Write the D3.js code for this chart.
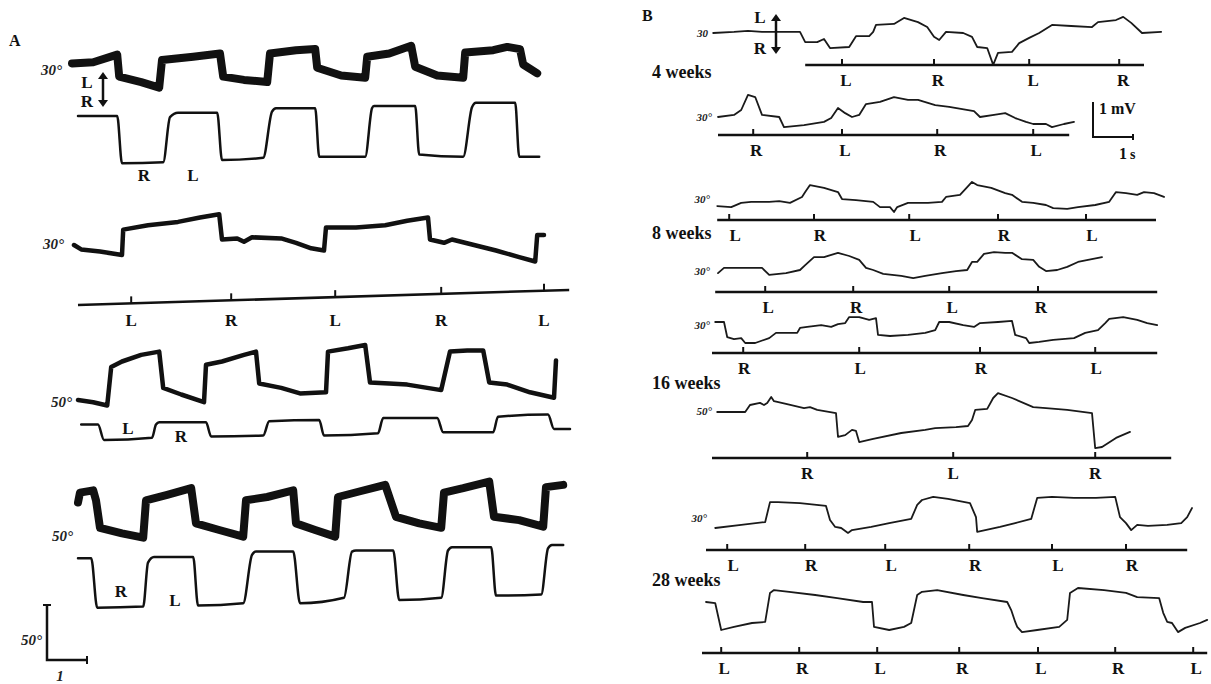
<!DOCTYPE html>
<html>
<head>
<meta charset="utf-8">
<script src="https://cdn.jsdelivr.net/npm/d3@7"></script>
<style>
body { margin: 0; background: #fff; }
svg { display: block; }
.lab { font-family: "Liberation Serif", "DejaVu Serif", serif; font-weight: bold; fill: #111; }
.deg { font-family: "Liberation Serif", "DejaVu Serif", serif; font-style: italic; font-weight: bold; fill: #222; }
</style>
</head>
<body>
<div id="chart"></div>
<script>
'use strict';

// ---------------- data : time in s, panel A in degrees, panel B in mV ----------------

// panel A, row 1 (30 deg) : EOG and stimulus position
var a1Eog = [[0.05,6],[0.58,7],[1.18,14],[1.23,-6],[1.78,-11],[2.23,-16],[2.30,9],[3.08,12],[3.75,15],
    [3.83,-6],[4.35,-9],[4.93,-11],[5.00,15],[5.65,18],[6.13,19],[6.18,2],[6.78,-5],[7.38,-7],[7.43,12],
    [7.98,15],[8.53,22],[8.63,3],[9.18,-5],[9.83,-7],[9.88,16],[10.58,18],[10.93,21],[11.25,19],[11.33,5],[11.68,-3]];
var a1Stim = [[0.20,40],[1.18,40],[1.30,-3],[2.33,-2],[2.50,39],[2.70,43],[3.68,43],[3.80,0],[4.83,2],
    [5.05,44],[5.15,47],[6.13,47],[6.23,3],[7.38,3],[7.55,47],[7.60,49],[8.63,49],[8.73,5],[9.83,3],
    [10.05,48],[10.15,52],[11.13,52],[11.23,3],[11.73,3]];

// panel A, row 2 (30 deg) : EOG and the L/R marker line
var a2Eog = [[0.10,0],[0.28,-4],[0.75,-6],[1.30,-9],[1.33,14],[1.95,18],[2.70,21],[3.25,25],[3.73,28],
    [3.80,5],[4.18,6],[4.35,3],[4.55,7],[5.28,6],[5.65,2],[6.03,-3],[6.35,-5],[6.40,16],[7.15,16],
    [7.88,18],[8.43,22],[8.95,25],[9.00,5],[9.35,2],[9.55,5],[10.10,0],[10.65,-5],[11.23,-11],
    [11.63,-15],[11.68,9],[11.85,9]];
var a2Span = [0.2, 12.48];
var a2Ticks = [1.53, 4.03, 6.63, 9.28, 11.85];
var a2TickLabels = ['L', 'R', 'L', 'R', 'L'];

// panel A, row 3 (50 deg)
var a3Eog = [[0.20,0],[0.58,-2],[0.93,-5],[1.03,30],[1.30,35],[1.78,41],[2.23,44],[2.33,11],[2.78,5],
    [3.35,-2],[3.40,32],[3.80,35],[4.35,41],[4.65,44],[4.73,15],[5.28,11],[5.75,6],[6.40,7],[6.45,44],
    [6.95,47],[7.38,50],[7.50,16],[7.98,15],[8.43,14],[9.28,9],[9.50,44],[9.93,45],[10.33,45],
    [10.48,16],[10.93,14],[11.50,7],[12.10,2],[12.15,36]];
var a3Stim = [[0.28,5],[0.70,5],[0.85,-9],[2.05,-7],[2.15,5],[2.23,7],[3.40,7],[3.53,-6],[4.83,-5],
    [4.98,8],[6.23,9],[6.35,-5],[7.70,-3],[7.83,11],[9.18,11],[9.33,-2],[10.58,-2],[10.70,12],
    [11.95,14],[12.10,1],[12.50,1]];

// panel A, row 4 (50 deg)
var a4Eog = [[0.20,25],[0.25,34],[0.58,36],[0.65,27],[0.75,2],[1.30,-3],[1.83,-7],[1.90,27],[2.43,32],
    [3.03,38],[3.15,6],[3.73,0],[4.33,-6],[4.40,27],[4.93,30],[5.58,36],[5.65,6],[6.13,0],[6.63,-6],
    [6.70,30],[7.23,35],[7.88,41],[8.15,12],[8.73,6],[9.28,2],[9.35,34],[9.83,38],[10.48,44],
    [10.60,12],[11.23,9],[11.83,3],[11.90,39],[12.33,41]];
var a4Stim = [[0.20,38],[0.53,38],[0.68,-7],[1.83,-6],[1.95,34],[2.10,39],[3.08,39],[3.20,-5],[4.33,-3],
    [4.55,41],[4.65,44],[5.58,44],[5.75,-3],[6.85,2],[7.05,44],[7.15,45],[8.08,45],[8.23,0],[9.28,2],
    [9.45,45],[9.55,48],[10.53,48],[10.65,4],[11.78,5],[11.95,47],[12.05,50],[12.33,50]];

// panel B traces
var b1 = [[0.33,0],[0.85,0.03],[1.20,0.06],[1.55,0.03],[1.90,0.03],[2.50,0.03],[2.63,-0.26],[2.93,-0.26],
    [3.10,-0.17],[3.25,-0.43],[3.73,-0.40],[3.90,-0.09],[4.23,-0.09],[4.33,0.03],[4.40,0.23],[4.85,0.26],
    [5.10,0.43],[5.45,0.31],[5.68,0.17],[5.85,-0.11],[5.98,-0.20],[6.15,0.03],[6.58,0],[6.80,-0.11],
    [6.93,-0.40],[7.18,-0.43],[7.33,-0.91],[7.45,-0.57],[7.80,-0.54],[7.98,-0.29],[8.23,-0.14],[8.48,0],
    [8.80,0.23],[9.28,0.20],[9.80,0.17],[9.95,0.31],[10.40,0.37],[10.58,0.46],[10.78,0.29],[11.05,0],[11.53,0.03]];
var b2 = [[0.45,0],[0.85,0.06],[1.03,0.20],[1.20,0.63],[1.38,0.57],[1.55,0.06],[1.98,0],[2.10,-0.29],
    [2.60,-0.23],[3.10,-0.14],[3.28,-0.03],[3.45,0.26],[3.63,0.11],[3.80,0],[3.98,0.06],[4.15,0.37],
    [4.50,0.43],[4.85,0.57],[5.20,0.49],[5.45,0.49],[5.88,0.34],[6.23,0.29],[6.85,0.17],[7.00,0],
    [7.35,0.06],[7.63,0.11],[7.88,-0.03],[8.15,-0.14],[8.33,-0.20],[8.65,-0.20],[8.80,-0.29],[9.10,-0.20],[9.35,-0.14]];
var b3 = [[0.43,-0.03],[0.78,-0.06],[1.03,0.06],[1.28,0.09],[1.73,0.09],[1.98,0.11],[2.25,0.06],[2.55,0.23],
    [2.63,0.37],[2.75,0.57],[3.10,0.49],[3.45,0.37],[3.55,0.17],[3.90,0.14],[4.33,0.09],[4.50,-0.06],
    [4.75,-0.06],[4.85,-0.20],[4.93,-0.06],[5.20,0.06],[5.70,0.06],[6.05,0.09],[6.15,0.23],[6.50,0.29],
    [6.68,0.51],[6.80,0.66],[6.93,0.57],[7.28,0.49],[7.63,0.34],[7.80,0.29],[8.05,0.09],[8.33,0.06],
    [8.65,0],[8.83,-0.09],[9.18,-0.11],[9.45,-0.06],[9.88,0],[10.23,0.09],[10.40,0.37],[10.65,0.34],
    [10.93,0.29],[11.10,0.37],[11.35,0.34],[11.60,0.23]];
var b4 = [[0.45,-0.09],[0.60,0.06],[1.55,0.06],[1.73,-0.14],[2.15,-0.09],[2.50,0],[2.63,0.14],[2.85,0.37],
    [3.10,0.37],[3.45,0.49],[3.73,0.40],[3.98,0.29],[4.15,0.06],[4.33,0],[4.58,-0.11],[5.03,-0.17],
    [5.33,-0.23],[5.63,-0.17],[6.05,-0.09],[6.40,-0.03],[6.68,0],[6.80,0.23],[6.93,0.23],[7.10,0.46],
    [7.35,0.51],[7.63,0.49],[7.80,0.49],[8.05,0.31],[8.33,0.29],[8.48,0.09],[8.65,-0.03],[8.93,0],
    [9.18,0.09],[9.45,0.23],[9.70,0.29],[10.05,0.37]];
var b5 = [[0.38,0],[0.60,0],[0.68,-0.43],[0.85,-0.49],[1.03,-0.46],[1.13,-0.60],[1.38,-0.60],[1.73,-0.46],
    [1.90,-0.31],[2.15,-0.31],[2.43,-0.31],[2.50,-0.17],[2.68,-0.14],[3.03,-0.09],[3.28,-0.14],[3.45,-0.06],
    [3.63,-0.03],[3.73,0.14],[3.98,0.14],[4.23,0.06],[4.40,0.11],[4.45,-0.37],[4.75,-0.40],[5.20,-0.37],
    [5.63,-0.31],[5.88,-0.23],[5.98,0],[6.23,0],[6.58,-0.09],[6.85,-0.14],[7.00,-0.03],[7.45,0],[7.80,0.03],
    [7.88,-0.37],[8.15,-0.46],[8.23,-0.60],[8.48,-0.57],[8.83,-0.51],[9.35,-0.46],[9.63,-0.31],[9.95,-0.23],
    [10.13,-0.03],[10.23,0.09],[10.58,0.14],[10.93,0.06],[11.18,-0.03],[11.43,-0.09]];
var b6 = [[0.43,0],[1.13,0],[1.25,0.20],[1.50,0.26],[1.60,0.20],[1.68,0.26],[1.78,0.43],[1.85,0.31],
    [2.15,0.23],[2.60,0.11],[2.75,0.14],[2.93,0.06],[3.40,-0.03],[3.45,-0.71],[3.63,-0.66],[3.80,-0.51],
    [3.90,-0.54],[3.98,-0.86],[4.33,-0.77],[5.03,-0.60],[5.63,-0.51],[5.88,-0.46],[6.40,-0.43],[6.70,-0.40],
    [6.80,-0.23],[6.88,0.06],[7.18,0.09],[7.33,0.40],[7.45,0.54],[7.80,0.40],[8.33,0.14],[8.65,0.11],
    [9.18,0.06],[9.80,-0.03],[9.88,-1.03],[10.05,-1.00],[10.40,-0.74],[10.75,-0.57]];
var b7 = [[0.38,0],[1.03,0.09],[1.63,0.17],[1.75,0.74],[1.95,0.74],[2.50,0.71],[3.15,0.63],[3.25,0.23],
    [3.38,0.03],[3.53,0],[3.70,-0.14],[3.80,-0.06],[4.28,0.03],[4.73,0.14],[5.28,0.26],[5.43,0.66],
    [5.55,0.80],[5.83,0.89],[6.20,0.83],[6.75,0.71],[6.90,0.31],[6.93,-0.11],[7.13,-0.06],[7.50,0.03],
    [7.88,0.14],[8.28,0.26],[8.43,0.86],[8.80,0.89],[9.35,0.86],[9.90,0.86],[10.38,0.89],[10.50,0.31],
    [10.65,0.14],[10.78,-0.06],[10.93,0.09],[11.20,0.06],[11.68,0.09],[12.03,0.14],[12.18,0.31],[12.30,0.57]];
var b8 = [[0.15,0],[0.38,-0.03],[0.53,-0.80],[0.85,-0.71],[1.30,-0.60],[1.63,-0.57],[1.75,0.26],[1.85,0.34],
    [2.23,0.29],[2.88,0.20],[3.43,0.11],[4.08,0],[4.30,0],[4.35,-0.71],[4.73,-0.80],[5.10,-0.71],
    [5.28,-0.60],[5.43,0.20],[5.55,0.29],[5.93,0.34],[6.58,0.20],[7.05,0.11],[7.68,0],[7.78,-0.23],
    [7.88,-0.57],[7.93,-0.71],[8.05,-0.86],[8.43,-0.80],[8.98,-0.71],[9.18,-0.51],[9.25,0.26],[9.45,0.40],
    [10.10,0.34],[10.65,0.26],[10.93,0.14],[11.48,0.11],[11.58,-0.31],[11.68,-0.57],[11.80,-0.60],
    [11.95,-0.86],[12.13,-0.74],[12.50,-0.60],[12.68,-0.51]];

// L / R marker lines of panel B: span, tick times, tick labels
var bMarkers = [
    { span: [2.63, 11.10], ticks: [3.55, 5.85, 8.23, 10.48], labels: ['L', 'R', 'L', 'R'] },
    { span: [0.45, 9.23], ticks: [1.33, 3.55, 5.93, 8.33], labels: ['R', 'L', 'R', 'L'] },
    { span: [0.43, 11.40], ticks: [0.73, 2.85, 5.23, 7.45, 9.65], labels: ['L', 'R', 'L', 'R', 'L'] },
    { span: [0.38, 11.43], ticks: [1.63, 3.83, 6.23, 8.45], labels: ['L', 'R', 'L', 'R'] },
    { span: [0.30, 11.43], ticks: [1.08, 3.98, 7.00, 9.88], labels: ['R', 'L', 'R', 'L'] },
    { span: [0.30, 11.78], ticks: [2.68, 6.33, 9.88], labels: ['R', 'L', 'R'] },
    { span: [0.15, 12.18], ticks: [0.68, 2.63, 4.63, 6.73, 8.80, 10.65], labels: ['L', 'R', 'L', 'R', 'L', 'R'] },
    { span: [0.05, 12.68], ticks: [0.53, 2.48, 4.43, 6.48, 8.45, 10.38, 12.33], labels: ['L', 'R', 'L', 'R', 'L', 'R', 'L'] }
];

var bTraces = [b1, b2, b3, b4, b5, b6, b7, b8];
var bTraceLabels = ['30', '30°', '30°', '30°', '30°', '50°', '30°', ''];
var bAges = ['4 weeks', '8 weeks', '16 weeks', '28 weeks'];

// ---------------- layout ----------------
var W = 1211, H = 684;
var pxPerSec = 40;

var svg = d3.select('#chart').append('svg')
    .attr('width', W)
    .attr('height', H);

// panel scales
var xA = d3.scaleLinear().domain([0, 13]).range([70, 70 + 13 * pxPerSec]);
var xB = d3.scaleLinear().domain([0, 13]).range([700, 700 + 13 * pxPerSec]);

function yDeg(y0) { return d3.scaleLinear().domain([0, 50]).range([y0, y0 - 55]); }
function yMv(y0) { return d3.scaleLinear().domain([0, 1]).range([y0, y0 - 35]); }

function drawTrace(g, data, x, y, w, color, curve)
{
    var line = d3.line()
        .curve(curve || d3.curveLinear)
        .x(function(d) { return x(d[0]); })
        .y(function(d) { return y(d[1]); });

    g.append('path')
        .attr('d', line(data))
        .attr('fill', 'none')
        .attr('stroke', color || '#111')
        .attr('stroke-width', w)
        .attr('stroke-linejoin', 'round')
        .attr('stroke-linecap', 'round');
}

function text(g, x, y, s, cls, size, anchor)
{
    return g.append('text')
        .attr('class', cls)
        .attr('x', x)
        .attr('y', y)
        .attr('font-size', size)
        .attr('text-anchor', anchor || 'start')
        .text(s);
}

function vArrow(g, x, y1, y2)
{
    g.append('line')
        .attr('x1', x).attr('x2', x)
        .attr('y1', y1 + 5).attr('y2', y2 - 5)
        .attr('stroke', '#111').attr('stroke-width', 2.5);
    g.append('path').attr('d', 'M' + (x - 5) + ',' + (y1 + 7) + 'L' + x + ',' + y1 + 'L' + (x + 5) + ',' + (y1 + 7) + 'Z').attr('fill', '#111');
    g.append('path').attr('d', 'M' + (x - 5) + ',' + (y2 - 7) + 'L' + x + ',' + y2 + 'L' + (x + 5) + ',' + (y2 - 7) + 'Z').attr('fill', '#111');
}

// ---------------- panel A ----------------
var gA = svg.append('g');
text(gA, 9, 46, 'A', 'lab', 16);

var aRows = [
    { eog: a1Eog, eogY: 70, w: 8, label: '30°', lx: 62, ly: 75, stim: a1Stim, stimY: 160 },
    { eog: a2Eog, eogY: 245, w: 4.5, label: '30°', lx: 64, ly: 249 },
    { eog: a3Eog, eogY: 400, w: 4.5, label: '50°', lx: 72, ly: 407, stim: a3Stim, stimY: 430 },
    { eog: a4Eog, eogY: 530, w: 8, label: '50°', lx: 73, ly: 541, stim: a4Stim, stimY: 600 }
];

aRows.forEach(function(r) {
    drawTrace(gA, r.eog, xA, yDeg(r.eogY), r.w);
    text(gA, r.lx, r.ly, r.label, 'deg', 15, 'end');
    if (r.stim) drawTrace(gA, r.stim, xA, yDeg(r.stimY), 2.5, '#111', d3.curveMonotoneX);
});

// stimulus labels
text(gA, 144, 181, 'R', 'lab', 17, 'middle');
text(gA, 193, 181, 'L', 'lab', 17, 'middle');
text(gA, 128, 434, 'L', 'lab', 17, 'middle');
text(gA, 181, 442, 'R', 'lab', 17, 'middle');
text(gA, 121, 597, 'R', 'lab', 17, 'middle');
text(gA, 175, 606, 'L', 'lab', 17, 'middle');

// L/R direction arrow of row 1
text(gA, 87, 88, 'L', 'lab', 17, 'middle');
text(gA, 87, 107, 'R', 'lab', 17, 'middle');
vArrow(gA, 103, 72, 107);

// tilted marker line of row 2
var tilt = d3.scaleLinear().domain(a2Span).range([305, 290]);
gA.append('line')
    .attr('x1', xA(a2Span[0])).attr('y1', tilt(a2Span[0]))
    .attr('x2', xA(a2Span[1])).attr('y2', tilt(a2Span[1]))
    .attr('stroke', '#111').attr('stroke-width', 2.5);
gA.selectAll('.a2tick').data(a2Ticks).enter().append('line')
    .attr('x1', function(d) { return xA(d); }).attr('x2', function(d) { return xA(d); })
    .attr('y1', function(d) { return tilt(d); }).attr('y2', function(d) { return tilt(d) - 7; })
    .attr('stroke', '#111').attr('stroke-width', 2);
gA.selectAll('.a2lab').data(a2Ticks).enter().append('text')
    .attr('class', 'lab')
    .attr('x', function(d) { return xA(d); })
    .attr('y', 326)
    .attr('font-size', 17)
    .attr('text-anchor', 'middle')
    .text(function(d, i) { return a2TickLabels[i]; });

// scale bar A : 50 deg, 1 s
var sbA = { x: 47, y: 660 };
var ySb = yDeg(sbA.y);
gA.append('path')
    .attr('d', 'M' + sbA.x + ',' + ySb(50) + 'V' + ySb(0) + 'H' + (sbA.x + xA(1) - xA(0)))
    .attr('fill', 'none').attr('stroke', '#111').attr('stroke-width', 2.5);
gA.append('path')
    .attr('d', 'M' + (sbA.x - 4) + ',' + ySb(50) + 'H' + (sbA.x + 4) + 'M' + (sbA.x + xA(1) - xA(0)) + ',' + (sbA.y - 4) + 'V' + (sbA.y + 4))
    .attr('stroke', '#111').attr('stroke-width', 2);
text(gA, 42, 645, '50°', 'deg', 15, 'end');
text(gA, 60, 681, '1', 'deg', 15, 'middle');

// ---------------- panel B ----------------
var gB = svg.append('g');
text(gB, 642, 21, 'B', 'lab', 16);

var bTraceY = [33, 117, 205, 270, 322, 412, 528, 602];
var bAxisY  = [65, 135, 220, 292, 353, 458, 550, 653];
var bLabelX = [708, 712, 710, 710, 710, 712, 707, 0];
var bLabelY = [37, 121, 203, 275, 329, 415, 522, 0];
var bLabelDx = [4, 3, 6, 3, 1, 0, 6, 3];

bTraces.forEach(function(tr, i) {
    drawTrace(gB, tr, xB, yMv(bTraceY[i]), 1.8, '#1a1a1a');
    if (bTraceLabels[i]) text(gB, bLabelX[i], bLabelY[i], bTraceLabels[i], 'deg', 11).attr('text-anchor', 'end').attr('fill', '#555');

    var m = bMarkers[i];
    var ay = bAxisY[i];
    gB.append('line')
        .attr('x1', xB(m.span[0])).attr('x2', xB(m.span[1]))
        .attr('y1', ay).attr('y2', ay)
        .attr('stroke', '#111').attr('stroke-width', 2.5);
    gB.selectAll(null).data(m.ticks).enter().append('line')
        .attr('x1', function(d) { return xB(d); }).attr('x2', function(d) { return xB(d); })
        .attr('y1', ay).attr('y2', ay - 6)
        .attr('stroke', '#111').attr('stroke-width', 2);
    gB.selectAll(null).data(m.ticks).enter().append('text')
        .attr('class', 'lab')
        .attr('x', function(d) { return xB(d) + bLabelDx[i]; })
        .attr('y', ay + 21)
        .attr('font-size', 17)
        .attr('text-anchor', 'middle')
        .text(function(d, j) { return m.labels[j]; });
});

// age labels
var ageY = [78, 239, 389, 586];
bAges.forEach(function(s, i) { text(gB, 652, ageY[i], s, 'lab', 18); });

// L/R direction arrow of row 1
text(gB, 760, 23, 'L', 'lab', 17, 'middle');
text(gB, 760, 54, 'R', 'lab', 17, 'middle');
vArrow(gB, 776, 14, 54);

// scale bar B : 1 mV, 1 s
var sbB = { x: 1093, y: 137 };
var yS = yMv(sbB.y);
gB.append('path')
    .attr('d', 'M' + sbB.x + ',' + yS(1) + 'V' + yS(0) + 'H' + (sbB.x + xB(1) - xB(0)))
    .attr('fill', 'none').attr('stroke', '#111').attr('stroke-width', 2);
gB.append('path')
    .attr('d', 'M' + (sbB.x + xB(1) - xB(0)) + ',' + (sbB.y - 3) + 'V' + (sbB.y + 3))
    .attr('stroke', '#111').attr('stroke-width', 2);
text(gB, 1099, 114, '1 mV', 'lab', 16);
text(gB, 1119, 159, '1', 'lab', 16);
text(gB, 1130, 159, 's', 'lab', 14).attr('font-weight', 'normal');
</script>
</body>
</html>
